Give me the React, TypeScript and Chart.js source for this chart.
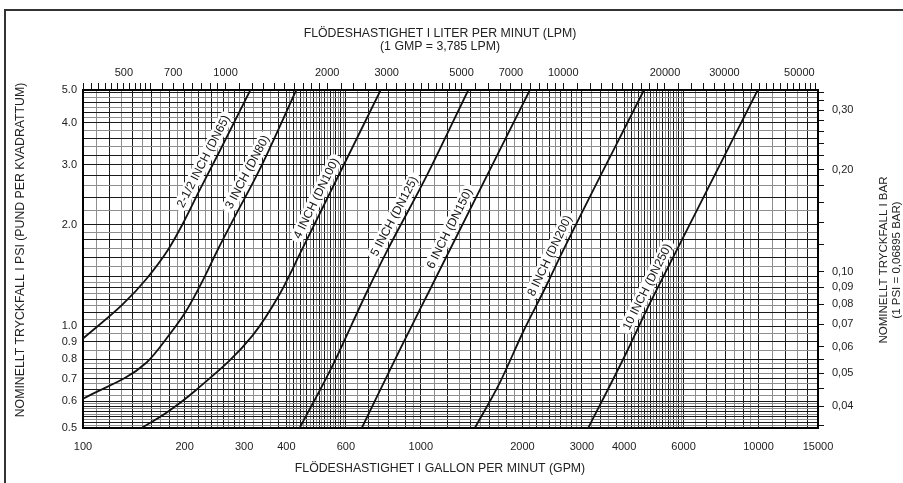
import React, { useEffect, useRef } from "react";
import { Chart, registerables } from "chart.js";

Chart.register(...registerables);

// ---- axis ranges & unit conversions ----
const GPM_MIN = 100;
const GPM_MAX = 15000;
const PSI_MIN = 0.5;
const PSI_MAX = 5;
const LPM_PER_GPM = 3.785;
const BAR_PER_PSI = 0.06895;

// ---- tick labels ----
const gpmTickLabels = [100, 200, 300, 400, 600, 1000, 2000, 3000, 4000, 6000, 10000, 15000];
const lpmTickLabels = [500, 700, 1000, 2000, 3000, 5000, 7000, 10000, 20000, 30000, 50000];
const psiTickLabels = [0.5, 0.6, 0.7, 0.8, 0.9, 1.0, 2.0, 3.0, 4.0, 5.0];
const barTickLabels = [0.04, 0.05, 0.06, 0.07, 0.08, 0.09, 0.1, 0.2, 0.3];

// ---- graph-paper rulings: [from, to, step] ----
const gpmGridBands = [
  [100, 300, 10],
  [300, 400, 20],
  [400, 600, 10],
  [600, 1000, 50],
  [1000, 3000, 100],
  [3000, 4000, 200],
  [4000, 6000, 100],
  [6000, 10000, 500],
  [10000, 15000, 1000],
];
const psiGridBands = [
  [0.5, 0.6, 0.01],
  [0.6, 0.8, 0.025],
  [0.8, 1.0, 0.05],
  [1.0, 1.4, 0.05],
  [1.4, 2.0, 0.1],
  [2.0, 4.0, 0.2],
  [4.0, 4.9, 0.15],
  [5.0, 5.0, 1],
];
const lpmTickBands = [
  [380, 600, 20],
  [600, 1000, 50],
  [1000, 2000, 100],
  [2000, 5000, 200],
  [5000, 10000, 500],
  [10000, 20000, 1000],
  [20000, 56000, 2000],
];
const barTickBands = [
  [0.035, 0.06, 0.005],
  [0.06, 0.1, 0.01],
  [0.1, 0.34, 0.02],
];

// ---- curves (flow in GPM, pressure drop in PSI) ----
const curveNames = [
  "2-1/2 INCH (DN65)",
  "3 INCH (DN80)",
  "4 INCH (DN100)",
  "5 INCH (DN125)",
  "6 INCH (DN150)",
  "8 INCH (DN200)",
  "10 INCH (DN250)",
];
const dn65Gpm = [100, 131, 154, 179, 198, 222, 254, 313];
const dn65Psi = [0.92, 1.16, 1.38, 1.69, 2.02, 2.54, 3.3, 5.0];
const dn80Gpm = [100, 154, 181, 202, 224, 251, 278, 333, 428];
const dn80Psi = [0.61, 0.78, 0.95, 1.11, 1.34, 1.69, 2.06, 2.9, 5.0];
const dn100Gpm = [149, 177, 217, 318, 383, 443, 761];
const dn100Psi = [0.5, 0.556, 0.65, 0.94, 1.25, 1.67, 5.0];
const dn125Gpm = [438, 550, 689, 792, 1040, 1383];
const dn125Psi = [0.5, 0.77, 1.25, 1.66, 2.78, 5.0];
const dn150Gpm = [669, 866, 1063, 2104];
const dn150Psi = [0.5, 0.85, 1.28, 5.0];
const dn200Gpm = [1446, 1713, 2007, 2355, 2627, 4580];
const dn200Psi = [0.5, 0.68, 0.96, 1.32, 1.66, 5.0];
const dn250Gpm = [3131, 3977, 4770, 5727, 9945];
const dn250Psi = [0.5, 0.8, 1.17, 1.68, 5.0];

// pressure (psi) at which each curve's label sits
const labelPsi = [2.98, 2.77, 2.32, 2.05, 1.89, 1.57, 1.27];

const curveGpm = [dn65Gpm, dn80Gpm, dn100Gpm, dn125Gpm, dn150Gpm, dn200Gpm, dn250Gpm];
const curvePsi = [dn65Psi, dn80Psi, dn100Psi, dn125Psi, dn150Psi, dn200Psi, dn250Psi];

const FONT = "'Liberation Sans', Arial, Helvetica, sans-serif";

type Rule = { v: number; dark: boolean };

function rulings(bands: number[][], labels: number[]): Rule[] {
  const out: Rule[] = [];
  for (const [a, b, s] of bands) {
    const n = Math.round((b - a) / s);
    for (let i = 0; i <= n; i++) {
      const v = +(a + i * s).toFixed(6);
      if (out.some((o) => Math.abs(o.v - v) < 1e-9)) continue;
      const isLabel = labels.some((l) => Math.abs(l - v) < 1e-9);
      out.push({ v, dark: isLabel || i % 2 === 0 });
    }
  }
  return out;
}

const has = (arr: number[], v: number) => arr.some((a) => Math.abs(a - v) / a < 1e-6);

const decorPlugin = {
  id: "decor",
  beforeDraw(chart: any) {
    const ctx = chart.ctx;
    ctx.save();
    ctx.fillStyle = "#fff";
    ctx.fillRect(0, 0, chart.width, chart.height);
    ctx.restore();
  },
  afterDraw(chart: any) {
    const ctx = chart.ctx;
    ctx.save();
    // outer frame
    ctx.strokeStyle = "#333";
    ctx.lineWidth = 2;
    ctx.beginPath();
    ctx.moveTo(5, chart.height);
    ctx.lineTo(5, 10);
    ctx.lineTo(chart.width, 10);
    ctx.stroke();

    ctx.fillStyle = "#222";
    ctx.font = `12.3px ${FONT}`;
    ctx.textAlign = "center";
    ctx.textBaseline = "middle";
    const cx = 440;
    ctx.fillText("FLÖDESHASTIGHET I LITER PER MINUT (LPM)", cx, 34);
    ctx.fillText("(1 GMP = 3,785 LPM)", cx, 47);
    ctx.fillText("FLÖDESHASTIGHET I GALLON PER MINUT (GPM)", cx, 469);

    ctx.save();
    ctx.translate(21, 250);
    ctx.rotate(-Math.PI / 2);
    ctx.fillText("NOMINELLT TRYCKFALL I PSI (PUND PER KVADRATTUM)", 0, 0);
    ctx.restore();

    ctx.save();
    ctx.font = `11.5px ${FONT}`;
    ctx.translate(884, 260);
    ctx.rotate(-Math.PI / 2);
    ctx.fillText("NOMINELLT TRYCKFALL I BAR", 0, 0);
    ctx.fillText("(1 PSI = 0,06895 BAR)", 0, 13);
    ctx.restore();
    ctx.restore();
  },
};

const curveLabelPlugin = {
  id: "curveLabels",
  afterDatasetsDraw(chart: any) {
    const ctx = chart.ctx;
    const xs = chart.scales.x;
    const ys = chart.scales.y;
    ctx.save();
    ctx.font = `12px ${FONT}`;
    ctx.textAlign = "center";
    ctx.textBaseline = "middle";
    curveNames.forEach((name, i) => {
      const pts = curveGpm[i].map((g, k) => [xs.getPixelForValue(g), ys.getPixelForValue(curvePsi[i][k])]);
      const py = ys.getPixelForValue(labelPsi[i]);
      let k = 0;
      while (k < pts.length - 2 && pts[k + 1][1] > py) k++;
      const [x0, y0] = pts[k];
      const [x1, y1] = pts[k + 1];
      const t = (py - y0) / (y1 - y0);
      const px = x0 + t * (x1 - x0);
      const ang = Math.atan2(y1 - y0, x1 - x0);
      const off = 10;
      const nx = Math.sin(ang);
      const ny = -Math.cos(ang);
      const cxp = px + nx * off;
      const cyp = py + ny * off;
      const w = ctx.measureText(name).width;
      ctx.save();
      ctx.translate(cxp, cyp);
      ctx.rotate(ang);
      ctx.fillStyle = "#fff";
      ctx.beginPath();
      const rw = w + 8;
      const rh = 14;
      ctx.roundRect(-rw / 2, -rh / 2, rw, rh, 6);
      ctx.fill();
      ctx.fillStyle = "#111";
      ctx.fillText(name, 0, 0.5);
      ctx.restore();
    });
    ctx.restore();
  },
};

export default function App() {
  const ref = useRef<HTMLCanvasElement | null>(null);

  useEffect(() => {
    if (!ref.current) return;
    const gpmRules = rulings(gpmGridBands, gpmTickLabels);
    const psiRules = rulings(psiGridBands, psiTickLabels);
    const lpmRules = rulings(lpmTickBands, lpmTickLabels);
    const barRules = rulings(barTickBands, barTickLabels);

    const gridColor = (c: any) => (c.tick && c.tick.dark ? "#1a1a1a" : "#8e8e8e");

    const chart = new Chart(ref.current, {
      type: "line",
      data: {
        datasets: curveNames.map((name, i) => ({
          label: name,
          data: curveGpm[i].map((g, k) => ({ x: g, y: curvePsi[i][k] })),
          borderColor: "#111",
          borderWidth: 1.8,
          pointRadius: 0,
          fill: false,
          cubicInterpolationMode: "monotone" as const,
          xAxisID: "x",
          yAxisID: "y",
        })),
      },
      options: {
        animation: false,
        responsive: false,
        devicePixelRatio: 1,
        layout: { padding: 0 },
        plugins: { legend: { display: false }, tooltip: { enabled: false }, title: { display: false } },
        events: [],
        scales: {
          x: {
            type: "logarithmic",
            position: "bottom",
            min: GPM_MIN,
            max: GPM_MAX,
            afterBuildTicks: (s: any) => {
              s.ticks = gpmRules.map((r) => ({ value: r.v, dark: r.dark }));
            },
            afterFit: (s: any) => {
              s.height = 55;
            },
            grid: { color: gridColor, lineWidth: 1, drawTicks: false },
            border: { display: true, color: "#000", width: 2 },
            ticks: {
              autoSkip: false,
              maxRotation: 0,
              minRotation: 0,
              padding: 12,
              color: "#222",
              font: { family: FONT, size: 11 },
              callback: (v: any) => (has(gpmTickLabels, Number(v)) ? String(v) : ""),
            },
          },
          x2: {
            type: "logarithmic",
            position: "top",
            min: GPM_MIN * LPM_PER_GPM,
            max: GPM_MAX * LPM_PER_GPM,
            afterBuildTicks: (s: any) => {
              s.ticks = lpmRules.map((r) => ({ value: r.v, dark: true }));
            },
            afterFit: (s: any) => {
              s.height = 90;
            },
            grid: { drawOnChartArea: false, drawTicks: true, tickLength: 7, color: "#111", lineWidth: 1 },
            border: { display: true, color: "#000", width: 2 },
            ticks: {
              autoSkip: false,
              maxRotation: 0,
              minRotation: 0,
              padding: 3,
              color: "#222",
              font: { family: FONT, size: 11 },
              callback: (v: any) => (has(lpmTickLabels, Number(v)) ? String(v) : ""),
            },
          },
          y: {
            type: "logarithmic",
            position: "left",
            min: PSI_MIN,
            max: PSI_MAX,
            afterBuildTicks: (s: any) => {
              s.ticks = psiRules.map((r) => ({ value: r.v, dark: r.dark }));
            },
            afterFit: (s: any) => {
              s.width = 83;
            },
            grid: { color: gridColor, lineWidth: 1, drawTicks: false },
            border: { display: true, color: "#000", width: 2 },
            ticks: {
              autoSkip: false,
              padding: 6,
              color: "#222",
              font: { family: FONT, size: 11 },
              callback: (v: any) => (has(psiTickLabels, Number(v)) ? Number(v).toFixed(1) : ""),
            },
          },
          y2: {
            type: "logarithmic",
            position: "right",
            min: PSI_MIN * BAR_PER_PSI,
            max: PSI_MAX * BAR_PER_PSI,
            afterBuildTicks: (s: any) => {
              s.ticks = barRules.map((r) => ({ value: r.v, dark: true }));
            },
            afterFit: (s: any) => {
              s.width = 85;
            },
            grid: { drawOnChartArea: false, drawTicks: true, tickLength: 6, color: "#111", lineWidth: 1 },
            border: { display: true, color: "#000", width: 2 },
            ticks: {
              autoSkip: false,
              padding: 8,
              color: "#222",
              font: { family: FONT, size: 11 },
              callback: (v: any) =>
                has(barTickLabels, Number(v)) ? Number(v).toFixed(2).replace(".", ",") : "",
            },
          },
        },
      } as any,
      plugins: [decorPlugin, curveLabelPlugin],
    });
    return () => chart.destroy();
  }, []);

  return (
    <div style={{ position: "absolute", left: 0, top: 0, width: 903, height: 483, background: "#fff" }}>
      <canvas ref={ref} width={903} height={483} style={{ display: "block", width: 903, height: 483 }} />
    </div>
  );
}
